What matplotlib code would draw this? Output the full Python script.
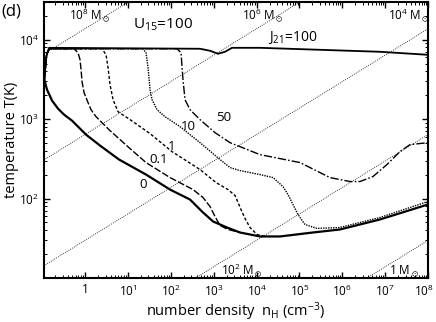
import numpy as np
import matplotlib
matplotlib.use("Agg")
import matplotlib.pyplot as plt
import matplotlib.transforms as mtransforms
from matplotlib.ticker import FixedLocator, LogLocator, NullFormatter

plt.rcParams['font.family'] = ['Open Sans', 'DejaVu Sans']
plt.rcParams['mathtext.fontset'] = 'custom'
plt.rcParams['mathtext.rm'] = 'Open Sans'
plt.rcParams['mathtext.default'] = 'regular'

# curves: log10 n_H (cm^-3), log10 T (K)
j0_logn = [-0.95, -0.886, -0.769, -0.629, -0.490, -0.303, 0.023, 0.350, 0.793, 1.422,
           1.981, 2.448, 2.727, 2.984, 3.310, 3.613, 4.079, 4.545, 5.315, 5.944, 6.876, 7.995]
j0_logT = [3.497, 3.371, 3.233, 3.132, 3.057, 2.981, 2.805, 2.667, 2.491, 2.302,
           2.113, 1.987, 1.836, 1.711, 1.635, 1.572, 1.522, 1.522, 1.572, 1.610, 1.736, 1.925]

j01_logn = [-0.95, -0.90, -0.839, -0.256, -0.163, -0.117, -0.093, -0.070, -0.023, 0.070, 0.140,
            0.256, 0.583, 1.049, 1.422, 1.981, 2.517, 2.751, 2.914, 3.030, 3.147, 3.333, 3.613]
j01_logT = [3.497, 3.80, 3.887, 3.887, 3.836, 3.748, 3.623, 3.472, 3.333, 3.208, 3.119,
            3.031, 2.855, 2.629, 2.453, 2.264, 2.113, 2.013, 1.899, 1.774, 1.660, 1.610, 1.572]

j1_logn = [-0.95, -0.90, -0.839, 0.396, 0.490, 0.536, 0.583, 0.653, 0.769, 1.049, 1.515, 2.028,
           2.681, 3.054, 3.333, 3.497, 3.636, 3.730, 3.846, 4.009, 4.196]
j1_logT = [3.497, 3.80, 3.887, 3.887, 3.811, 3.648, 3.434, 3.245, 3.094, 2.994, 2.818, 2.591,
           2.365, 2.201, 2.113, 2.038, 1.862, 1.748, 1.635, 1.547, 1.522]

j10_logn = [-0.95, -0.90, -0.839, 1.352, 1.422, 1.469, 1.515, 1.562, 1.678, 1.865, 2.214, 2.681,
            3.147, 3.380, 3.613, 4.079, 4.382, 4.615, 4.732, 4.848, 4.965, 5.128, 5.408,
            5.944, 6.876, 7.995]
j10_logT = [3.497, 3.80, 3.887, 3.887, 3.836, 3.648, 3.371, 3.245, 3.119, 3.031, 2.906, 2.704,
            2.491, 2.390, 2.352, 2.302, 2.264, 2.151, 2.050, 1.925, 1.799, 1.673, 1.623,
            1.635, 1.761, 1.962]

j50_logn = [-0.95, -0.90, -0.839, 2.145, 2.238, 2.261, 2.284, 2.331, 2.448, 2.681, 3.030, 3.380,
            4.079, 5.012, 5.711, 6.177, 6.410, 6.713, 7.040, 7.343, 7.576, 7.995]
j50_logT = [3.497, 3.80, 3.887, 3.887, 3.836, 3.660, 3.497, 3.245, 3.119, 2.994, 2.830, 2.704,
            2.553, 2.453, 2.264, 2.214, 2.214, 2.277, 2.428, 2.591, 2.679, 2.704]

j100_logn = [-0.95, -0.90, -0.839, 2.681, 2.914, 3.100, 3.263, 3.427, 4.079, 5.478, 6.876, 7.995]
j100_logT = [3.497, 3.80, 3.899, 3.887, 3.862, 3.824, 3.849, 3.899, 3.899, 3.874, 3.849, 3.811]

# Jeans mass lines (Msun), M = C T^1.5 n^-0.5
jeans_masses = [1e8, 1e6, 1e4, 1e2, 1]
jeans_logC = 1.79

xticks = [1, 1e1, 1e2, 1e3, 1e4, 1e5, 1e6, 1e7, 1e8]
xtick_labels = ['1', '$10^1$', '$10^2$', '$10^3$', '$10^4$', '$10^5$', '$10^6$', '$10^7$', '$10^8$']
yticks = [1e2, 1e3, 1e4]
ytick_labels = ['$10^2$', '$10^3$', '$10^4$']

fig = plt.figure(figsize=(4.36, 3.22), dpi=100)
ax = fig.add_axes([0.1, 0.137, 0.882, 0.857])

nn = np.logspace(-1.5, 8.5, 50)
for m in jeans_masses:
    tt = (m / 10**jeans_logC) ** (2 / 3) * nn ** (1 / 3)
    ax.plot(nn, tt, color='k', lw=0.6, ls=(0, (1, 1.5)))

ax.plot(10**np.array(j100_logn), 10**np.array(j100_logT), color='k', lw=1.3, ls='-')
ax.plot(10**np.array(j50_logn), 10**np.array(j50_logT), color='k', lw=1.0,
        ls=(0, (6, 1.5, 1.2, 1.5)))
ax.plot(10**np.array(j10_logn), 10**np.array(j10_logT), color='k', lw=1.0, ls=(0, (1, 0.8)))
ax.plot(10**np.array(j1_logn), 10**np.array(j1_logT), color='k', lw=1.0, ls=(0, (2.2, 1.5)))
ax.plot(10**np.array(j01_logn), 10**np.array(j01_logT), color='k', lw=1.0, ls=(0, (5, 1.5)))
ax.plot(10**np.array(j0_logn), 10**np.array(j0_logT), color='k', lw=1.6, ls='-')

ax.set_xscale('log')
ax.set_yscale('log')
ax.set_xlim(0.108, 1e8)
ax.set_ylim(10, 3.0e4)

ax.xaxis.set_major_locator(FixedLocator(xticks))
ax.set_xticklabels(xtick_labels)
ax.yaxis.set_major_locator(FixedLocator(yticks))
ax.set_yticklabels(ytick_labels)
ax.xaxis.set_minor_locator(LogLocator(base=10, subs=np.arange(2, 10), numticks=20))
ax.yaxis.set_minor_locator(LogLocator(base=10, subs=np.arange(2, 10), numticks=20))
ax.xaxis.set_minor_formatter(NullFormatter())
ax.yaxis.set_minor_formatter(NullFormatter())
ax.tick_params(which='both', direction='in', top=True, right=True, labelsize=8.5)
ax.tick_params(which='major', length=4, width=1)
ax.tick_params(which='minor', length=2, width=0.7)
ax.tick_params(axis='x', pad=4)
for s in ax.spines.values():
    s.set_linewidth(1.5)

# nudge the last x tick label so it stays inside the figure
last = ax.get_xticklabels()[-1]
last.set_transform(last.get_transform() + mtransforms.ScaledTranslation(-4 / 100, 0, fig.dpi_scale_trans))

ax.set_xlabel('number density  n$_H$ (cm$^{-3}$)', fontsize=10.5)
ax.set_ylabel('temperature T(K)', fontsize=10.5)
ax.xaxis.set_label_coords(0.5, -0.083)
ax.yaxis.set_label_coords(-0.083, 0.5)
ax.yaxis.label.set_va('center')
ax.xaxis.label.set_va('top')

tkw = dict(transform=ax.transAxes, ha='center', va='center', fontsize=9.5)
ax.text(0.259, 0.337, '0', **tkw)
ax.text(0.298, 0.428, '0.1', **tkw)
ax.text(0.334, 0.475, '1', **tkw)
ax.text(0.376, 0.547, '10', **tkw)
ax.text(0.469, 0.580, '50', **tkw)
ax.text(0.311, 0.917, 'U$_{15}$=100', transform=ax.transAxes, ha='center', va='center', fontsize=11)
ax.text(0.649, 0.870, 'J$_{21}$=100', transform=ax.transAxes, ha='center', va='center', fontsize=10)
mkw = dict(transform=ax.transAxes, ha='center', va='center', fontsize=8.5)
ax.text(0.121, 0.953, r'10$^8$ M$_\odot$', **mkw)
ax.text(0.571, 0.953, r'10$^6$ M$_\odot$', **mkw)
ax.text(0.950, 0.953, r'10$^4$ M$_\odot$', **mkw)
ax.text(0.516, 0.030, r'10$^2$ M$_\odot$', **mkw)
ax.text(0.938, 0.024, r'1 M$_\odot$', **mkw)

fig.text(0.003, 0.965, '(d)', fontsize=12, ha='left', va='center')

fig.savefig('out.png', dpi=100)
